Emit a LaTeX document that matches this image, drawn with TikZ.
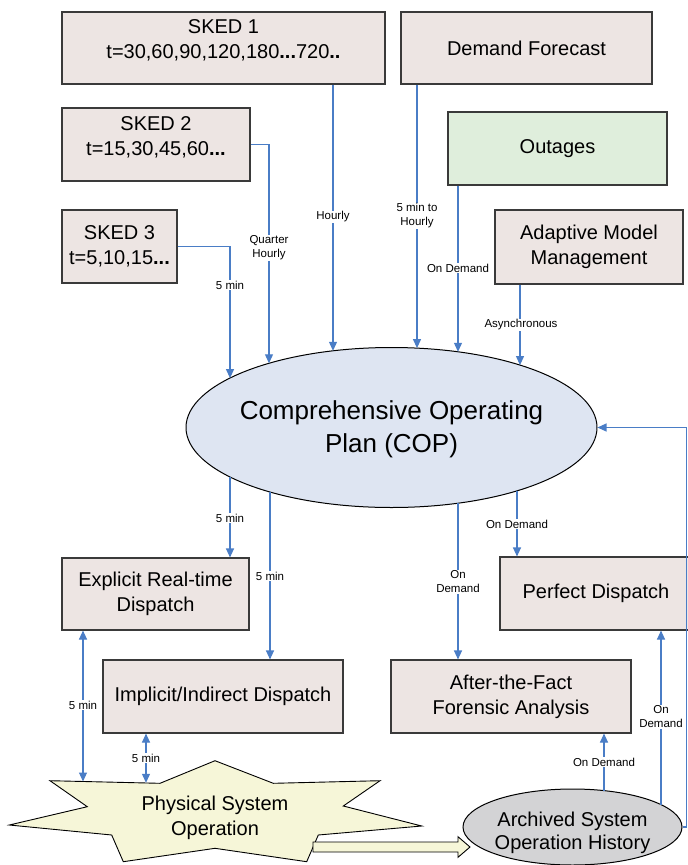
\documentclass[tikz,border=0pt]{standalone}
\usepackage{fontspec}
\setmainfont{Liberation Sans}
\usetikzlibrary{arrows.meta,shapes.geometric}
\definecolor{boxfill}{HTML}{EDE5E3}
\definecolor{boxline}{HTML}{3A3A3A}
\definecolor{connblue}{HTML}{4A7DC6}
\definecolor{outfill}{HTML}{DFEEDC}
\definecolor{copfill}{HTML}{DEE5F2}
\definecolor{arcfill}{HTML}{D3D3D5}
\definecolor{starfill}{HTML}{F6F6D8}
\begin{document}
\begin{tikzpicture}[x=1pt,y=-1pt,
  boxnode/.style={draw=boxline, fill=boxfill, line width=1.1pt, inner sep=0pt, align=center, font=\fontsize{20}{25}\selectfont},
  flow/.style={draw=connblue, line width=1.1pt, -{Triangle[length=9pt,width=8pt]}},
  flowtwo/.style={draw=connblue, line width=1.1pt, {Triangle[length=9pt,width=8pt]}-{Triangle[length=9pt,width=8pt]}},
  lbl/.style={fill=white, inner sep=1pt, font=\fontsize{11.5}{14}\selectfont, align=center},
  bigtxt/.style={align=center, inner sep=0pt}
]
\useasboundingbox (0,0) rectangle (688,865);
\clip (0,0) rectangle (688,865);

% boxes
\node[boxnode, minimum width=323pt, minimum height=72pt, text depth=18pt] (sked1) at (223.5,48) {SKED 1\\ t=30,60,90,120,180\textbf{...}720\textbf{..}};
\node[boxnode, minimum width=251pt, minimum height=72pt] (demand) at (526.5,48) {Demand Forecast};
\node[boxnode, minimum width=188pt, minimum height=73pt, text depth=17pt] (sked2) at (156,144.5) {SKED 2\\ t=15,30,45,60\textbf{...}};
\node[boxnode, minimum width=115pt, minimum height=73pt] (sked3) at (119.5,246.5) {SKED 3\\ t=5,10,15\textbf{...}};
\node[boxnode, fill=outfill, minimum width=219pt, minimum height=73pt] (outages) at (557.5,148.5) {Outages};
\node[boxnode, minimum width=188pt, minimum height=74pt] (adaptive) at (589,247) {Adaptive Model\\ Management};
\node[boxnode, minimum width=187pt, minimum height=72pt] (explicit) at (155.5,594) {Explicit Real-time\\ Dispatch};
\node[boxnode, minimum width=240pt, minimum height=73pt] (implicit) at (223,696.5) {Implicit/Indirect Dispatch};
\node[boxnode, minimum width=240pt, minimum height=73pt] (forensic) at (511,696.5) {After-the-Fact\\ Forensic Analysis};
\node[boxnode, minimum width=192pt, minimum height=73pt] (perfect) at (596,593.5) {Perfect Dispatch};

% COP ellipse
\node[ellipse, draw=black, line width=1pt, fill=copfill, minimum width=411pt, minimum height=160pt, inner sep=0pt] (cop) at (391.5,427.5) {};
\node[bigtxt, font=\fontsize{26}{33}\selectfont] (coptxt) at (391.5,429) {Comprehensive Operating\\ Plan (COP)};

% Archived ellipse
\node[ellipse, draw=black, line width=1pt, fill=arcfill, minimum width=219pt, minimum height=76pt, inner sep=0pt] (archived) at (572.5,827) {};
\node[bigtxt, font=\fontsize{20}{23}\selectfont] (arctxt) at (572.5,833) {Archived System\\ Operation History};

% star
\draw[draw=black, line width=0.9pt, fill=starfill]
  (50,780.7) -- (160,783.3) -- (215,760.7) -- (273.3,783.3) -- (380,780.7)
  -- (343.3,806) -- (421.7,826) -- (318.3,835) -- (306.7,861.7) -- (215,848.3)
  -- (123.3,861.7) -- (111.7,835) -- (9.3,825) -- (87.3,806.7) -- cycle;
\node[bigtxt, font=\fontsize{20}{25}\selectfont] (startxt) at (215,818) {Physical System\\ Operation};

% hollow arrow star -> archived
\draw[draw=black, line width=0.9pt, fill=starfill]
  (313,842) -- (458,842) -- (458,836.7) -- (470,847) -- (458,857.3) -- (458,852) -- (313,852) -- cycle;

% border points
\coordinate (cT230) at (230,378.1);
\coordinate (cT269) at (269,363.3);
\coordinate (cT333) at (333,350.8);
\coordinate (cT417) at (417,348.1);
\coordinate (cT458) at (458,351.8);
\coordinate (cT520) at (520,365.1);
\coordinate (cB230) at (230,476.9);
\coordinate (cB270) at (270,492);
\coordinate (cB458) at (458,503.2);
\coordinate (cB517) at (517,490.9);
\coordinate (aT604) at (604,790.6);
\coordinate (aT661) at (661,804.6);
\coordinate (s83) at (83,781.5);
\coordinate (s146) at (146,782.8);
\coordinate (rx) at (686.5,0);

% connectors into COP
\draw[flow] (sked1.south -| cT333) -- (cT333);
\draw[flow] (demand.south -| cT417) -- (cT417);
\draw[flow] (sked2.east) -| (cT269);
\draw[flow] (sked3.east) -| (cT230);
\draw[flow] (outages.south -| cT458) -- (cT458);
\draw[flow] (adaptive.south -| cT520) -- (cT520);
\draw[flow] (archived.east) -- (archived.east -| rx) -- (rx |- cop.east) -- (cop.east);

% connectors out of COP
\draw[flow] (cB230) -- (cB230 |- explicit.north);
\draw[flow] (cB270) -- (cB270 |- implicit.north);
\draw[flow] (cB458) -- (cB458 |- forensic.north);
\draw[flow] (cB517) -- (cB517 |- perfect.north);

% dispatch <-> physical
\draw[flowtwo] (s83 |- explicit.south) -- (s83);
\draw[flowtwo] (s146 |- implicit.south) -- (s146);

% archived -> analysis
\draw[flow] (aT604) -- (aT604 |- forensic.south);
\draw[flow] (aT661) -- (aT661 |- perfect.south);

% labels
\node[lbl] (l1) at (333,217) {Hourly};
\node[lbl] (l2) at (269,248) {Quarter\\Hourly};
\node[lbl] (l3) at (230,285) {5 min};
\node[lbl] (l4) at (417,216) {5 min to\\Hourly};
\node[lbl] (l5) at (458,268) {On Demand};
\node[lbl] (l6) at (521,325) {Asynchronous};
\node[lbl] (l7) at (230,518) {5 min};
\node[lbl] (l8) at (270,576) {5 min};
\node[lbl] (l9) at (517,524) {On Demand};
\node[lbl] (l10) at (458,582) {On\\Demand};
\node[lbl] (l11) at (83,705) {5 min};
\node[lbl] (l12) at (146,758) {5 min};
\node[lbl] (l13) at (604,762) {On Demand};
\node[lbl] (l14) at (661,717) {On\\Demand};
\end{tikzpicture}
\end{document}
